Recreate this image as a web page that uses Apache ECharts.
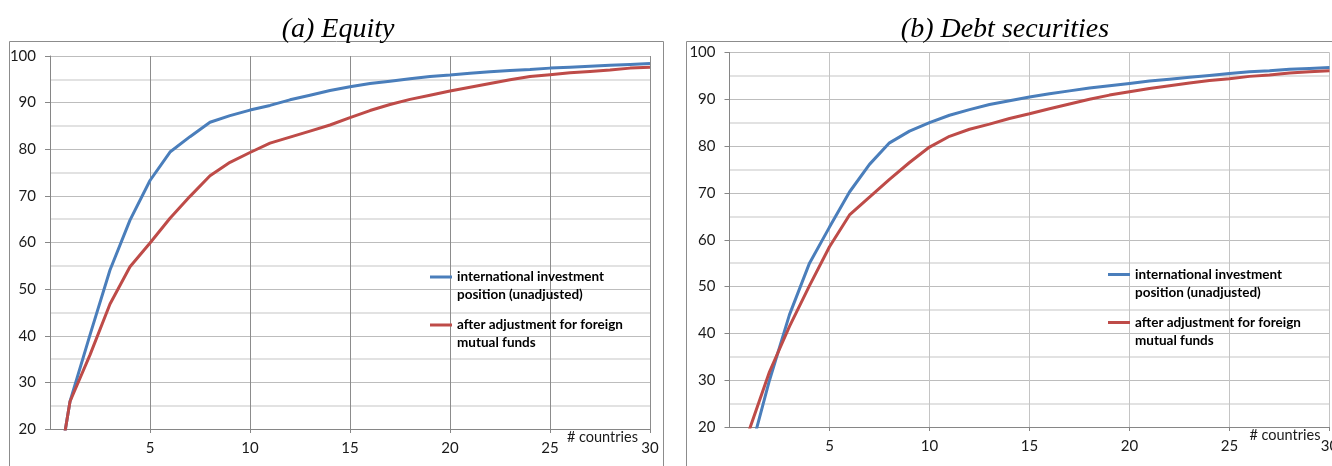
<!DOCTYPE html>
<html>
<head>
<meta charset="utf-8">
<script src="https://cdn.jsdelivr.net/npm/echarts@6/dist/echarts.min.js"></script>
<style>
html,body{margin:0;padding:0;background:#fff;}
#chart{width:1332px;height:466px;}
</style>
</head>
<body>
<div id="chart"></div>
<script>
// ---- data ----
const countries = [0,1,2,3,4,5,6,7,8,9,10,11,12,13,14,15,16,17,18,19,20,21,22,23,24,25,26,27,28,29,30];
const equityUnadjusted = [0,25.9,40.2,54.1,64.8,73.3,79.4,82.7,85.8,87.2,88.4,89.4,90.6,91.6,92.6,93.4,94.1,94.6,95.1,95.6,95.9,96.3,96.6,96.9,97.1,97.4,97.6,97.8,98.0,98.2,98.4];
const equityAdjusted = [0,25.9,35.9,46.8,54.8,59.9,65.2,69.9,74.3,77.2,79.3,81.3,82.6,83.9,85.2,86.8,88.3,89.6,90.7,91.6,92.5,93.3,94.1,94.9,95.6,96.0,96.4,96.7,97.0,97.4,97.6];
const debtUnadjusted = [0,14,30,44,55,62.7,70.2,76.1,80.7,83.2,85.0,86.6,87.8,88.9,89.7,90.5,91.2,91.8,92.4,92.9,93.4,93.9,94.3,94.7,95.1,95.5,95.9,96.1,96.4,96.6,96.8];
const debtAdjusted = [0,19.5,31.8,41.5,50.2,58.5,65.3,69.1,72.9,76.5,79.8,82.1,83.6,84.7,85.9,86.9,88.0,89.0,90.0,90.9,91.6,92.3,92.9,93.5,94.0,94.4,94.9,95.2,95.6,95.9,96.1];
const panelTitles = ['(a) Equity', '(b) Debt securities'];
const seriesNames = ['international investment\nposition (unadjusted)', 'after adjustment for foreign\nmutual funds'];
const xAxisName = '# countries';

// ---- styles ----
const BLUE = '#4A7EBB', RED = '#BE4B48';
const labelFont = {fontFamily: 'Lato', fontSize: 15, color: '#1a1a1a'};
const pair = (ys) => countries.map((c, i) => [c, ys[i]]);

function xAxisCfg(idx, vColor, nameGap) {
  return {
    gridIndex: idx, type: 'value', min: 0, max: 30, interval: 5,
    axisLine: {show: true, lineStyle: {color: '#868686', width: 1}},
    axisTick: {show: true, length: 4, lineStyle: {color: '#868686'}},
    axisLabel: Object.assign({showMinLabel: false, margin: 12, hideOverlap: false}, labelFont),
    splitLine: {show: true, lineStyle: {color: vColor, width: 1}},
    name: xAxisName, nameLocation: 'end', nameGap: nameGap, nameMoveOverlap: false,
    nameTextStyle: {fontFamily: 'Lato', fontSize: 14.5, color: '#1a1a1a', align: 'right', verticalAlign: 'top', padding: [1, 0, 0, 0]}
  };
}
function yAxisCfg(idx) {
  return {
    gridIndex: idx, type: 'value', min: 20, max: 100, interval: 10,
    axisLine: {show: true, lineStyle: {color: '#868686', width: 1}},
    axisTick: {show: true, length: 5, lineStyle: {color: '#868686'}},
    axisLabel: Object.assign({margin: 14}, labelFont),
    splitLine: {show: true, lineStyle: {color: '#bdbdbd', width: 1}},
    minorTick: {show: false, splitNumber: 2},
    minorSplitLine: {show: true, lineStyle: {color: '#d9d9d9', width: 1.5}}
  };
}
function legendCfg(left, top) {
  return {
    data: seriesNames, orient: 'vertical', left: left, top: top, padding: 0,
    icon: 'rect', itemWidth: 22, itemHeight: 3, itemGap: -6,
    formatter: (name) => '\n' + name,
    textStyle: {fontFamily: 'Lato', fontWeight: 'bold', fontSize: 13.5, color: '#000', lineHeight: 18}
  };
}
function lineSeries(name, ys, color, idx) {
  return {
    type: 'line', name: name, data: pair(ys), xAxisIndex: idx, yAxisIndex: idx,
    showSymbol: false, symbol: 'none', clip: true,
    lineStyle: {color: color, width: 3}, itemStyle: {color: color},
    animation: false
  };
}

const chart = echarts.init(document.getElementById('chart'), null, {renderer: 'canvas'});
chart.setOption({
  backgroundColor: '#fff',
  animation: false,
  title: [
    {text: panelTitles[0], left: 333, top: 11, textAlign: 'center',
     textStyle: {fontFamily: 'Liberation Serif', fontStyle: 'italic', fontWeight: 'normal', fontSize: 28, color: '#000'}},
    {text: panelTitles[1], left: 1000, top: 11, textAlign: 'center',
     textStyle: {fontFamily: 'Liberation Serif', fontStyle: 'italic', fontWeight: 'normal', fontSize: 28, color: '#000'}}
  ],
  graphic: [
    {type: 'rect', z: -10, shape: {x: 9.5, y: 41.5, width: 654, height: 440}, style: {fill: 'none', stroke: '#8c8c8c', lineWidth: 1}},
    {type: 'rect', z: -10, shape: {x: 686.5, y: 41.5, width: 700, height: 440}, style: {fill: 'none', stroke: '#8c8c8c', lineWidth: 1}}
  ],
  legend: [legendCfg(430, 250), legendCfg(1108, 247.5)],
  grid: [
    {left: 50, right: 682, top: 56, bottom: 37, containLabel: false, outerBoundsMode: 'none'},
    {left: 729.5, right: 2.5, top: 52.5, bottom: 39, containLabel: false, outerBoundsMode: 'none'}
  ],
  xAxis: [xAxisCfg(0, '#8c8c8c', -12), xAxisCfg(1, '#c4c4c4', -9)],
  yAxis: [yAxisCfg(0), yAxisCfg(1)],
  series: [
    lineSeries(seriesNames[0], equityUnadjusted, BLUE, 0),
    lineSeries(seriesNames[1], equityAdjusted, RED, 0),
    lineSeries(seriesNames[0], debtUnadjusted, BLUE, 1),
    lineSeries(seriesNames[1], debtAdjusted, RED, 1)
  ]
});
</script>
</body>
</html>
